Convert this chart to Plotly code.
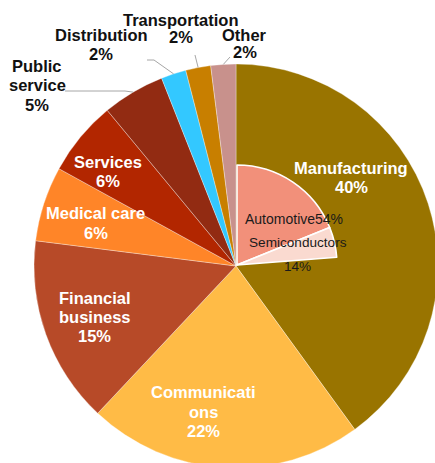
import math
import plotly.graph_objects as go

# ---------------- data ----------------
sectors = ["Manufacturing", "Communications", "Financial business", "Medical care",
           "Services", "Public service", "Distribution", "Transportation", "Other"]
shares = [40, 22, 15, 6, 6, 5, 2, 2, 2]
sector_colors = ["#997400", "#FFBB46", "#B74A28", "#FF8528", "#B22600",
                 "#922B12", "#33C8FF", "#C87F00", "#C8918C"]

sub_labels = ["Automotive", "Semiconductors", "rest"]
sub_shares = [54, 14]
sub_hidden_rest = [218]          # invisible remainder of the inner circle
sub_colors = ["#F2907A", "#FADAD0", "rgba(0,0,0,0)"]

# ---------------- layout constants (px) ----------------
W, H = 440, 470
CX, CY, R = 236, 266, 202        # outer pie
ICX, ICY, IR = 237, 265, 100     # inner pie

def fx(x):
    return x / W

def fy(y):
    return 1 - y / H

fig = go.Figure()

fig.add_trace(go.Pie(
    labels=sectors, values=shares, sort=False, direction="clockwise", rotation=0,
    marker=dict(colors=sector_colors, line=dict(color="rgba(255,255,255,0.55)", width=0.6)),
    textinfo="none", hoverinfo="label+percent", showlegend=False,
    domain=dict(x=[fx(CX - R), fx(CX + R)], y=[fy(CY + R), fy(CY - R)]),
))

fig.add_trace(go.Pie(
    labels=sub_labels, values=sub_shares + sub_hidden_rest, sort=False,
    direction="clockwise", rotation=0,
    marker=dict(colors=sub_colors, line=dict(color="white", width=[1.6, 1.6, 0])),
    textinfo="none", hoverinfo="skip", showlegend=False,
    domain=dict(x=[fx(ICX - IR), fx(ICX + IR)], y=[fy(ICY + IR), fy(ICY - IR)]),
))

BOLD = 16.5
FONT = "Liberation Sans, Arial, sans-serif"

def pct(name):
    return f"{shares[sectors.index(name)]}%"

# (lines, x center, y centers of lines, color, bold)
labels = [
    (["Manufacturing", pct("Manufacturing")], 351, [167.5, 186.5], "white", True),
    (["Communicati", "ons", pct("Communications")], 203.5, [392, 411.5, 430.5], "white", True),
    (["Financial", "business", pct("Financial business")], 94.5, [297.5, 316.5, 336], "white", True),
    (["Medical care", pct("Medical care")], 95.5, [213, 233], "white", True),
    (["Services", pct("Services")], 108, [162, 181], "white", True),
    (["Public", "service", pct("Public service")], 37, [66, 85, 105.5], "#111111", True),
    (["Distribution", pct("Distribution")], 101, [35, 54.5], "#111111", True),
    (["Transportation", pct("Transportation")], 181, [20.5, 37.5], "#111111", True),
    (["Other", pct("Other")], 245, [35, 52], "#111111", True),
]

annotations = []
for lines, x, ys, color, bold in labels:
    for line, y in zip(lines, ys):
        annotations.append(dict(
            x=fx(x), y=fy(y), xref="paper", yref="paper", xanchor="center", yanchor="middle",
            text=f"<b>{line}</b>" if bold else line, showarrow=False,
            font=dict(family=FONT, size=BOLD, color=color),
        ))

sub_texts = [
    (f"{sub_labels[0]}{sub_shares[0]}%", 293.5, 218.7, 14),
    (sub_labels[1], 297.5, 242.5, 13.6),
    (f"{sub_shares[1]}%", 297.7, 266.3, 13.6),
]
for t, x, y, s in sub_texts:
    annotations.append(dict(
        x=fx(x), y=fy(y), xref="paper", yref="paper", xanchor="center", yanchor="middle",
        text=t, showarrow=False, font=dict(family=FONT, size=s, color="#1a1a1a"),
    ))

# leader lines: from label end to the outer edge at slice middle
total = sum(shares)
def edge_point(name):
    i = sectors.index(name)
    mid = (sum(shares[:i]) + shares[i] / 2) / total * 2 * math.pi
    return CX + R * math.sin(mid), CY - R * math.cos(mid)

leaders = [
    ("Public service", [(65, 91), (125, 91)]),
    ("Distribution", [(147, 60), (154, 60)]),
    ("Transportation", [(195, 55)]),
    ("Other", [(230, 57)]),
]
shapes = []
for name, pts in leaders:
    pts = pts + [edge_point(name)]
    path = "M " + " L ".join(f"{fx(px):.5f},{fy(py):.5f}" for px, py in pts)
    shapes.append(dict(type="path", path=path, xref="paper", yref="paper",
                       line=dict(color="#A6A6A6", width=1), layer="above"))

fig.update_layout(
    width=W, height=H, margin=dict(l=0, r=0, t=0, b=0),
    paper_bgcolor="white", plot_bgcolor="white",
    annotations=annotations, shapes=shapes, showlegend=False,
)

fig.write_html("out.html", config={"displayModeBar": False},
               post_script="document.body.style.margin='0px';document.body.style.overflow='hidden';")
